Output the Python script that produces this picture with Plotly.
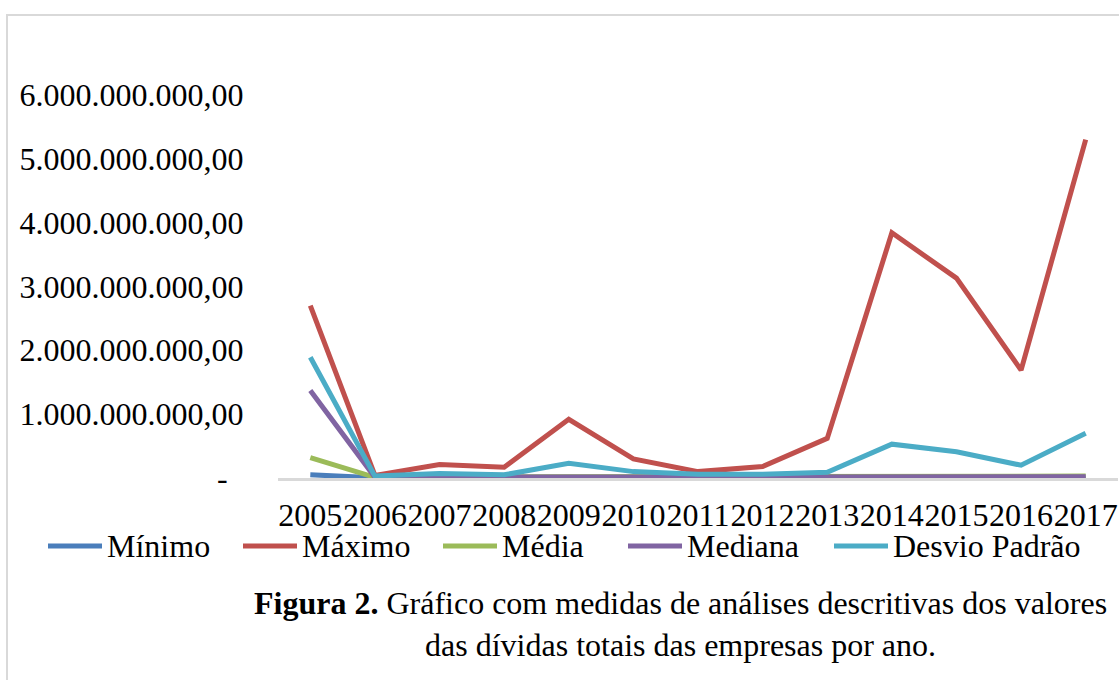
import plotly.graph_objects as go

years = [str(y) for y in range(2005, 2018)]

minimo = [0.05e9, 0.002e9, 0.001e9, 0.001e9, 0.001e9, 0.001e9, 0.001e9,
          0.001e9, 0.001e9, 0.001e9, 0.001e9, 0.001e9, 0.001e9]
maximo = [2.70e9, 0.04e9, 0.21e9, 0.17e9, 0.92e9, 0.30e9, 0.10e9,
          0.18e9, 0.62e9, 3.84e9, 3.13e9, 1.69e9, 5.30e9]
media = [0.32e9, 0.01e9, 0.02e9, 0.02e9, 0.03e9, 0.02e9, 0.02e9,
         0.02e9, 0.02e9, 0.03e9, 0.03e9, 0.02e9, 0.03e9]
mediana = [1.37e9, 0.01e9, 0.015e9, 0.015e9, 0.02e9, 0.02e9, 0.02e9,
           0.02e9, 0.02e9, 0.02e9, 0.02e9, 0.02e9, 0.02e9]
desvio = [1.89e9, 0.03e9, 0.07e9, 0.05e9, 0.23e9, 0.10e9, 0.06e9,
          0.06e9, 0.09e9, 0.53e9, 0.41e9, 0.20e9, 0.70e9]

series_names = ["Mínimo", "Máximo", "Média", "Mediana", "Desvio Padrão"]
series_values = [minimo, maximo, media, mediana, desvio]
series_colors = ["#4a7ebb", "#c0504d", "#9bbb59", "#8064a2", "#4bacc6"]

y_tickvals = [0, 1e9, 2e9, 3e9, 4e9, 5e9, 6e9]
y_ticktext = ["-\u00a0\u00a0", "1.000.000.000,00", "2.000.000.000,00", "3.000.000.000,00",
              "4.000.000.000,00", "5.000.000.000,00", "6.000.000.000,00"]

caption = ("<b>Figura 2.</b> Gráfico com medidas de análises descritivas dos valores"
           "<br>das dívidas totais das empresas por ano.")

FONT = "Liberation Serif, Times New Roman, serif"

W, H = 1119, 680
L, R, T, B = 278, 1, 31, 202
PW, PH = W - L - R, H - T - B


def px_x(x):
    return (x - L) / PW


def px_y(y):
    return ((H - B) - y) / PH


fig = go.Figure()
for name, vals, col in zip(series_names, series_values, series_colors):
    fig.add_trace(go.Scatter(
        x=years, y=vals, name=name, mode="lines",
        line=dict(color=col, width=5),
    ))

shapes = [dict(
    type="rect", xref="paper", yref="paper",
    x0=px_x(7), x1=px_x(1130), y0=px_y(700), y1=px_y(15),
    line=dict(color="#d9d9d9", width=2), fillcolor="rgba(0,0,0,0)", layer="below",
)]
annotations = [dict(
    xref="paper", yref="paper",
    x=px_x(680), y=px_y(624),
    xanchor="center", yanchor="middle", showarrow=False, align="center",
    text=caption, font=dict(family=FONT, size=32, color="black"),
)]

# custom legend (line sample + label)
legend_line_starts = [48, 243, 443, 628, 834]
legend_y = 546
for name, col, x0 in zip(series_names, series_colors, legend_line_starts):
    shapes.append(dict(
        type="line", xref="paper", yref="paper",
        x0=px_x(x0), x1=px_x(x0 + 54), y0=px_y(legend_y), y1=px_y(legend_y),
        line=dict(color=col, width=5),
    ))
    annotations.append(dict(
        xref="paper", yref="paper", x=px_x(x0 + 57), y=px_y(legend_y),
        xanchor="left", yanchor="middle", showarrow=False,
        text=name, font=dict(family=FONT, size=32, color="black"),
    ))

fig.update_layout(
    width=W, height=H,
    margin=dict(l=L, r=R, t=T, b=B, autoexpand=False),
    paper_bgcolor="white", plot_bgcolor="white",
    font=dict(family=FONT, size=32, color="black"),
    showlegend=False,
    xaxis=dict(
        type="category", range=[-0.5, 12.5], automargin=False,
        showgrid=False, zeroline=False, tickangle=0,
        showline=True, linecolor="#d9d9d9", linewidth=3,
        ticks="outside", ticklen=7, tickcolor="rgba(0,0,0,0)",
        tickfont=dict(size=32),
    ),
    yaxis=dict(
        range=[0, 7e9], showgrid=False, zeroline=False, showline=False, automargin=False,
        tickvals=y_tickvals, ticktext=y_ticktext,
        ticks="outside", ticklen=27, tickcolor="rgba(0,0,0,0)",
        tickfont=dict(size=32),
    ),
    shapes=shapes,
    annotations=annotations,
)

fig.write_html("out.html", config={"displayModeBar": False},
               post_script="document.body.style.margin='0';document.body.style.overflow='hidden';")
